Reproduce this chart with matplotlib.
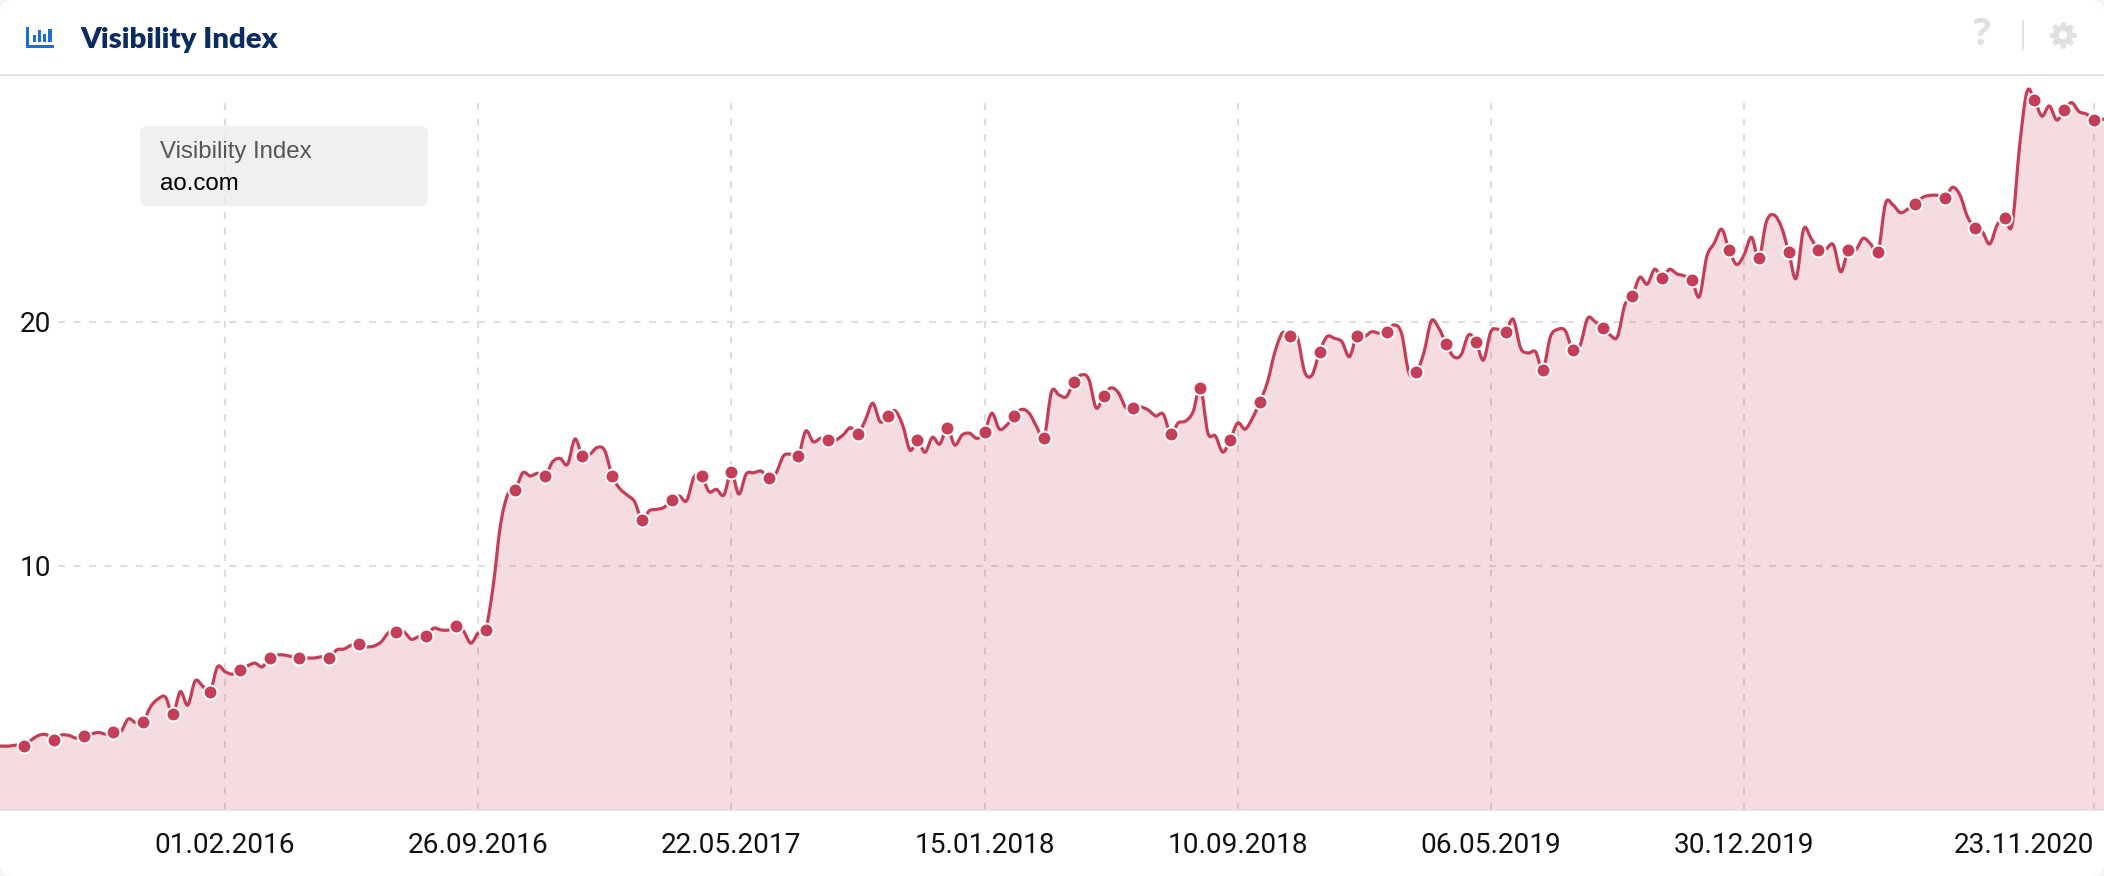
import numpy as np
import matplotlib
matplotlib.use('Agg')
import matplotlib.pyplot as plt
import matplotlib.dates as mdates
from matplotlib.patches import Circle, FancyBboxPatch, PathPatch, Rectangle
from matplotlib.path import Path

# weekly visibility index for ao.com, first week is 29.06.2015
first_week = '2015-06-29'
values = [
    2.62, 2.62, 2.62, 2.66, 2.62, 2.87, 3.06, 3.09, 2.87, 3.07, 3.06, 2.95, 3.03, 3.11, 3.18, 3.11, 3.20,
    3.21, 3.73, 3.58, 3.61, 4.23, 4.55, 4.63, 3.93, 4.85, 4.30, 5.29, 5.08, 4.85, 5.87, 5.67, 5.57, 5.74,
    5.90, 6.02, 5.87, 6.23, 6.35, 6.35, 6.28, 6.23, 6.23, 6.23, 6.28, 6.23, 6.56, 6.60, 6.76, 6.80, 6.69,
    6.72, 6.90, 7.28, 7.30, 7.31, 7.00, 7.10, 7.13, 7.45, 7.38, 7.38, 7.54, 7.35, 6.84, 7.25, 7.38, 9.14,
    11.68, 12.95, 13.13, 13.82, 13.69, 13.80, 13.69, 14.27, 14.41, 14.17, 15.20, 14.52, 14.58, 14.86,
    14.73, 13.69, 13.18, 12.91, 12.64, 11.90, 12.27, 12.32, 12.41, 12.72, 12.87, 12.68, 13.66, 13.69,
    13.05, 13.14, 12.91, 13.86, 12.95, 13.77, 13.82, 13.89, 13.62, 13.81, 14.51, 14.58, 14.52, 15.53,
    15.09, 15.23, 15.16, 15.16, 15.37, 15.67, 15.42, 15.98, 16.67, 15.91, 16.16, 16.36, 15.78, 14.75,
    15.16, 14.66, 15.27, 15.00, 15.67, 14.96, 15.37, 15.44, 15.23, 15.50, 16.26, 15.61, 15.78, 16.16,
    16.42, 16.26, 15.71, 15.26, 17.14, 17.01, 16.94, 17.55, 17.83, 17.66, 16.48, 16.98, 17.30, 17.09,
    16.48, 16.49, 16.52, 16.39, 16.15, 16.23, 15.42, 15.86, 15.94, 16.31, 17.31, 15.45, 15.33, 14.67,
    15.18, 15.86, 15.61, 16.07, 16.73, 17.54, 18.77, 19.55, 19.44, 19.39, 17.95, 17.83, 18.78, 19.40,
    19.33, 19.19, 18.58, 19.44, 19.40, 19.60, 19.54, 19.60, 19.88, 19.54, 17.91, 17.96, 18.73, 20.04,
    19.75, 19.11, 18.58, 18.65, 19.47, 19.19, 18.44, 19.60, 19.70, 19.60, 20.11, 18.93, 18.73, 18.78,
    18.05, 19.40, 19.70, 19.64, 18.86, 19.06, 20.15, 20.01, 19.77, 19.47, 19.40, 20.70, 21.07, 21.83,
    21.55, 22.16, 21.82, 22.16, 21.97, 21.89, 21.72, 21.04, 22.68, 23.23, 23.80, 22.95, 22.36, 22.75,
    23.47, 22.62, 24.11, 24.39, 23.91, 22.87, 21.79, 23.80, 23.43, 22.95, 22.99, 23.16, 22.06, 22.95,
    22.95, 23.43, 23.20, 22.87, 24.86, 24.80, 24.48, 24.63, 24.84, 25.11, 25.19, 25.19, 25.09, 25.52,
    25.20, 24.32, 23.86, 23.70, 23.20, 23.98, 24.27, 23.98, 27.18, 29.44, 29.10, 28.44, 28.85, 28.28,
    28.69, 28.99, 28.62, 28.52, 28.28, 28.31, 28.28,
]
# weeks (counted from first_week) that carry a dot
marker_weeks = [
    4, 8, 12, 16, 20, 24, 29, 33, 37, 41, 45, 49, 54, 58, 62, 66, 70, 74, 79, 83, 87, 91, 95, 99, 104,
    108, 112, 116, 120, 124, 128, 133, 137, 141, 145, 149, 153, 158, 162, 166, 170, 174, 178, 183, 187,
    191, 195, 199, 203, 208, 212, 216, 220, 224, 228, 233, 237, 241, 245, 249, 253, 258, 262, 266, 270,
    274, 278, 282,
]
tick_dates = ['2016-02-01', '2016-09-26', '2017-05-22', '2018-01-15', '2018-09-10', '2019-05-06',
              '2019-12-30', '2020-11-23']
tick_labels = ['01.02.2016', '26.09.2016', '22.05.2017', '15.01.2018', '10.09.2018', '06.05.2019',
               '30.12.2019', '23.11.2020']
y_ticks = [10, 20]
title = 'Visibility Index'
domain = 'ao.com'

RED = '#c43e58'
W, H = 2104, 876
plt.rcParams['lines.scale_dashes'] = False


def to_num(d):
    return mdates.date2num(np.datetime64(d))


def smooth_path(x, y, close_at=None):
    # cubic segments through every weekly value
    x, y = np.asarray(x, float), np.asarray(y, float)
    dx = np.gradient(x)
    dy = np.gradient(y)
    verts = [(x[0], y[0])]
    codes = [Path.MOVETO]
    for i in range(len(x) - 1):
        verts += [(x[i] + dx[i] / 3, y[i] + dy[i] / 3),
                  (x[i + 1] - dx[i + 1] / 3, y[i + 1] - dy[i + 1] / 3),
                  (x[i + 1], y[i + 1])]
        codes += [Path.CURVE4] * 3
    if close_at is not None:
        verts += [(x[-1], close_at), (x[0], close_at), (x[0], y[0])]
        codes += [Path.LINETO, Path.LINETO, Path.CLOSEPOLY]
    return Path(verts, codes)


fig = plt.figure(figsize=(W / 100, H / 100), dpi=100, facecolor='#f3f3f3')

# card and header, in pixel coordinates
bg = fig.add_axes([0, 0, 1, 1], zorder=0)
bg.set_xlim(0, W)
bg.set_ylim(H, 0)
bg.axis('off')
card = FancyBboxPatch((0, 0), W, H, boxstyle='round,pad=0,rounding_size=12', fc='white', ec='none')
bg.add_patch(card)
grad = bg.imshow(np.linspace(1, 0, 64).reshape(-1, 1), extent=(0, W, 74, 0), aspect='auto',
                 cmap=matplotlib.colors.LinearSegmentedColormap.from_list('hdr', ['#f5f5f5', '#ffffff']))
grad.set_clip_path(card)
bg.set_xlim(0, W)
bg.set_ylim(H, 0)
bg.add_patch(Rectangle((0, 74), W, 2, fc='#e4e4e4', ec='none'))

# chart
ax = fig.add_axes([0, (H - 810) / H, 1, 735 / H], zorder=1)
ax.patch.set_visible(False)
weeks = np.arange(np.datetime64(first_week), np.datetime64(first_week) + np.timedelta64(7 * len(values), 'D'),
                  np.timedelta64(7, 'D'))
x = mdates.date2num(weeks)
y = np.array(values)

for d in tick_dates:
    ax.plot([to_num(d), to_num(d)], [0, 0.971], transform=ax.get_xaxis_transform(), color='#dddddd', lw=1.5,
            ls=(0, (5, 6.2)), zorder=1)
for v in y_ticks:
    ax.plot([0.0276, 1], [v, v], transform=ax.get_yaxis_transform(), color='#dddddd', lw=1.5,
            ls=(0, (5, 6.2)), zorder=1)

ax.add_patch(PathPatch(smooth_path(x, y, close_at=0), fc=RED, alpha=0.18, ec='none', zorder=2))
ax.add_patch(PathPatch(smooth_path(x, y), fc='none', ec=RED, lw=2.3, zorder=3))
idx = np.array(marker_weeks)
ax.plot(x[idx], y[idx], 'o', ms=10, mfc=RED, mec='white', mew=1.4, ls='none', zorder=4)

ax.set_xlim(to_num('2015-07-04') + 0.5, to_num('2020-12-02') + 0.4)
ax.set_ylim(0, 735 / 24.4)
ax.set_xticks([to_num(d) for d in tick_dates])
ax.set_xticklabels(tick_labels)
ax.set_yticks(y_ticks)
ax.tick_params(axis='both', length=0, labelsize=20.2, labelcolor='#111111')
ax.tick_params(axis='x', pad=15.7)
ax.tick_params(axis='y', pad=-14)
for lab in ax.get_xticklabels() + ax.get_yticklabels():
    lab.set_fontfamily('Roboto')
plt.setp(ax.get_yticklabels(), ha='left')
# last date label stays inside the card
ax.get_xticklabels()[-1].set_ha('right')
for s in ['top', 'left', 'right']:
    ax.spines[s].set_visible(False)
ax.spines['bottom'].set_color('#e2e0e0')
ax.spines['bottom'].set_linewidth(1.2)

# header contents and legend box, in pixel coordinates
top = fig.add_axes([0, 0, 1, 1], zorder=2)
top.set_xlim(0, W)
top.set_ylim(H, 0)
top.axis('off')
top.patch.set_visible(False)

top.add_patch(FancyBboxPatch((140, 126), 288, 80, boxstyle='round,pad=0,rounding_size=9',
                             fc='#ebebeb', ec='none', alpha=0.75))
top.text(160, 158, title, family='Liberation Sans', fontsize=17.3, color='#555555', va='baseline')
top.text(160, 190, domain, family='Liberation Sans', fontsize=17.3, color='#000000', va='baseline')

BLUE = '#1a6fdc'
for rx, ry, rw, rh in [(26, 27, 3.4, 21), (26, 44.5, 28, 3.4), (33.2, 35, 3.2, 6.5), (38.2, 29.5, 3.2, 12),
                       (43.2, 33.5, 3.2, 8), (48.2, 28.5, 3.4, 13)]:
    top.add_patch(Rectangle((rx, ry), rw, rh, fc=BLUE, ec='none'))
top.text(80, 48, title, family='Lato', weight='heavy', fontsize=21.2, color='#0b2c60', va='baseline')

GRAY = '#e0e0e0'
top.text(1981.5, 35, '?', family='Open Sans', weight='bold', fontsize=27, color=GRAY, ha='center', va='center')
top.add_patch(Rectangle((2022, 20), 2, 30, fc='#e2e2e2', ec='none'))

# gear icon
gx, gy = 2063, 35
top.add_patch(Circle((gx, gy), 10, fc=GRAY, ec='none'))
top.add_patch(Circle((gx, gy), 4.4, fc='#fafafa', ec='none'))
for a in np.deg2rad(np.arange(0, 360, 45)):
    top.plot([gx + 8 * np.cos(a), gx + 13 * np.cos(a)], [gy + 8 * np.sin(a), gy + 13 * np.sin(a)],
             color=GRAY, lw=3.6, solid_capstyle='butt')

fig.savefig('out.png', dpi=100, facecolor=fig.get_facecolor())
